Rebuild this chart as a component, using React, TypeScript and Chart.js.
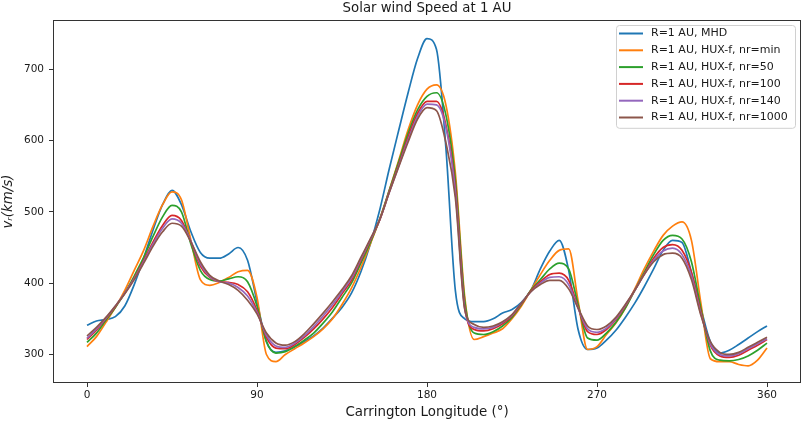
import React, { useEffect, useRef } from 'react';
import { Chart, registerables } from 'chart.js';

Chart.register(...registerables);

const longitude = [
  0, 5, 10, 15, 20, 25, 30, 35, 40, 45, 50, 55, 60, 65, 70, 75, 80, 85, 90,
  95, 100, 105, 110, 115, 120, 125, 130, 135, 140, 145, 150, 155, 160, 165, 170, 175, 180,
  185, 190, 195, 200, 205, 210, 215, 220, 225, 230, 235, 240, 245, 250, 255, 260, 265, 270,
  275, 280, 285, 290, 295, 300, 305, 310, 315, 320, 325, 330, 335, 340, 345, 350, 355, 360,
];

const mhd = [
  341, 347, 349, 353, 368, 398, 435, 475, 510, 530, 510, 472, 443, 435, 435, 441, 450, 432, 374,
  318, 303, 305, 311, 318, 326, 337, 351, 366, 386, 416, 455, 503, 560, 614, 667, 715, 743,
  728, 590, 390, 350, 346, 346, 350, 358, 363, 373, 390, 420, 445, 460, 418, 335, 307, 309,
  320, 334, 352, 372, 395, 420, 446, 460, 457, 415, 365, 318, 302, 306, 314, 323, 332, 340,
];

const huxMin = [
  311, 325, 345, 366, 390, 418, 446, 480, 510, 528, 517, 460, 405, 397, 401, 408, 416, 418, 380,
  300, 290, 300, 308, 316, 325, 336, 350, 370, 393, 422, 455, 490, 530, 572, 615, 650, 672,
  678, 650, 555, 380, 321, 325, 330, 336, 350, 368, 390, 412, 432, 446, 448, 375, 307, 311,
  328, 344, 365, 392, 420, 445, 467, 480, 486, 460, 372, 294, 290, 290, 286, 284, 292, 309,
];

const hux50 = [
  317, 330, 348, 366, 386, 410, 436, 466, 493, 509, 500, 455, 418, 405, 403, 406, 409, 402, 368,
  318, 302, 304, 311, 320, 330, 344, 360, 380, 400, 428, 457, 490, 530, 570, 610, 643, 662,
  667, 636, 545, 375, 330, 328, 332, 340, 352, 370, 390, 405, 420, 428, 420, 370, 323, 320,
  330, 345, 365, 390, 415, 440, 460, 467, 462, 430, 365, 305, 292, 291, 293, 298, 306, 316,
];

const hux100 = [
  321, 334, 350, 367, 386, 407, 432, 458, 481, 495, 488, 458, 424, 408, 402, 401, 398, 388, 362,
  324, 309, 308, 314, 324, 336, 350, 366, 385, 404, 432, 460, 489, 528, 566, 605, 638, 655,
  655, 622, 535, 366, 335, 333, 336, 343, 354, 371, 389, 402, 412, 414, 404, 366, 332, 328,
  335, 349, 368, 390, 413, 435, 450, 454, 446, 415, 360, 313, 298, 296, 299, 306, 313, 321,
];

const hux140 = [
  323, 336, 351, 368, 386, 406, 430, 455, 477, 490, 484, 459, 427, 409, 402, 400, 394, 382, 359,
  327, 312, 310, 316, 326, 339, 354, 370, 388, 407, 434, 461, 489, 527, 564, 601, 634, 651,
  650, 618, 528, 364, 338, 336, 338, 345, 355, 372, 388, 400, 408, 409, 398, 365, 336, 331,
  337, 350, 369, 390, 412, 432, 445, 449, 440, 410, 357, 315, 300, 298, 301, 308, 315, 322,
];

const hux1000 = [
  326, 338, 352, 368, 385, 405, 428, 452, 472, 484, 480, 458, 430, 411, 403, 398, 390, 376, 357,
  330, 316, 313, 318, 329, 343, 358, 374, 391, 410, 436, 462, 489, 527, 563, 598, 630, 646,
  642, 597, 520, 363, 342, 338, 340, 346, 356, 372, 388, 398, 404, 404, 392, 365, 340, 335,
  340, 352, 370, 390, 412, 430, 440, 442, 435, 405, 355, 318, 303, 300, 303, 310, 317, 324,
];

const seriesValues = [mhd, huxMin, hux50, hux100, hux140, hux1000];
const seriesLabels = [
  'R=1 AU, MHD',
  'R=1 AU, HUX-f, nr=min',
  'R=1 AU, HUX-f, nr=50',
  'R=1 AU, HUX-f, nr=100',
  'R=1 AU, HUX-f, nr=140',
  'R=1 AU, HUX-f, nr=1000',
];
const seriesColors = ['#1f77b4', '#ff7f0e', '#2ca02c', '#d62728', '#9467bd', '#8c564b'];

const xTicks = [0, 90, 180, 270, 360];
const yTicks = [300, 400, 500, 600, 700];

const FONT = "'DejaVu Sans', sans-serif";
const INK = '#1a1a1a';

// title centred over the axes, like matplotlib
const titlePlugin = {
  id: 'axesTitle',
  afterDraw(chart: any) {
    const { ctx, chartArea } = chart;
    ctx.save();
    ctx.font = `13.3px ${FONT}`;
    ctx.fillStyle = INK;
    ctx.textAlign = 'center';
    ctx.textBaseline = 'middle';
    ctx.fillText('Solar wind Speed at 1 AU', (chartArea.left + chartArea.right) / 2, chartArea.top - 11);
    ctx.restore();
  },
};

// four spines
const framePlugin = {
  id: 'frame',
  afterDatasetsDraw(chart: any) {
    const { ctx, chartArea } = chart;
    ctx.save();
    ctx.strokeStyle = '#333';
    ctx.lineWidth = 1;
    ctx.strokeRect(chartArea.left + 0.5, chartArea.top + 0.5, chartArea.right - chartArea.left - 1, chartArea.bottom - chartArea.top - 1);
    ctx.restore();
  },
};

// boxed legend in the upper right corner
const legendPlugin = {
  id: 'boxLegend',
  afterDraw(chart: any) {
    const { ctx, chartArea } = chart;
    const sets = chart.data.datasets;
    const rowH = 16.8;
    const w = 179;
    const h = sets.length * rowH + 2;
    const x0 = chartArea.right - 6 - w;
    const y0 = chartArea.top + 5;
    ctx.save();
    ctx.beginPath();
    ctx.roundRect(x0 + 0.5, y0 + 0.5, w, h, 3);
    ctx.fillStyle = 'rgba(255,255,255,0.8)';
    ctx.fill();
    ctx.strokeStyle = '#d0d0d0';
    ctx.lineWidth = 1;
    ctx.stroke();
    ctx.font = `11px ${FONT}`;
    ctx.textBaseline = 'middle';
    ctx.textAlign = 'left';
    sets.forEach((ds: any, i: number) => {
      const cy = y0 + 8.5 + i * rowH;
      ctx.beginPath();
      ctx.moveTo(x0 + 3, cy);
      ctx.lineTo(x0 + 27, cy);
      ctx.strokeStyle = ds.borderColor;
      ctx.lineWidth = 2;
      ctx.stroke();
      ctx.fillStyle = INK;
      ctx.fillText(ds.label, x0 + 35, cy);
    });
    ctx.restore();
  },
};

const App: React.FC = () => {
  const canvasRef = useRef<HTMLCanvasElement>(null);
  const chartRef = useRef<Chart | null>(null);

  useEffect(() => {
    if (!canvasRef.current) return;
    if (chartRef.current) chartRef.current.destroy();
    const ctx = canvasRef.current.getContext('2d');
    if (!ctx) return;

    chartRef.current = new Chart(ctx, {
      type: 'line',
      data: {
        datasets: seriesValues.map((vals, i) => ({
          label: seriesLabels[i],
          data: longitude.map((x, j) => ({ x, y: vals[j] })),
          borderColor: seriesColors[i],
          backgroundColor: seriesColors[i],
          borderWidth: 1.7,
          pointRadius: 0,
          fill: false,
          cubicInterpolationMode: 'monotone' as const,
          order: seriesValues.length - i,
        })),
      },
      options: {
        responsive: false,
        animation: false,
        layout: { padding: { top: 20, right: 2, left: 0, bottom: 0 } },
        plugins: {
          legend: { display: false },
          tooltip: { enabled: false },
          title: { display: false },
        },
        scales: {
          x: {
            type: 'linear',
            min: -18,
            max: 378,
            afterBuildTicks: (scale: any) => {
              scale.ticks = xTicks.map((value) => ({ value }));
            },
            afterFit: (scale: any) => {
              scale.height = 42;
            },
            grid: { drawOnChartArea: false, drawTicks: true, tickLength: 4, color: '#333' },
            border: { display: false },
            ticks: { font: { family: FONT, size: 10.5 }, color: INK, padding: 2, maxRotation: 0 },
            title: {
              display: true,
              text: 'Carrington Longitude (°)',
              font: { family: FONT, size: 13.4 },
              color: INK,
              padding: { top: 0, bottom: 4 },
            },
          },
          y: {
            type: 'linear',
            min: 260,
            max: 769,
            afterBuildTicks: (scale: any) => {
              scale.ticks = yTicks.map((value) => ({ value }));
            },
            afterFit: (scale: any) => {
              scale.width = 53;
            },
            grid: { drawOnChartArea: false, drawTicks: true, tickLength: 4, color: '#333' },
            border: { display: false },
            ticks: { font: { family: FONT, size: 10.5 }, color: INK, padding: 5 },
            title: {
              display: true,
              text: 'vᵣ(km/s)',
              font: { family: FONT, size: 13.4, style: 'italic' },
              color: INK,
              padding: { top: 0, bottom: 0 },
            },
          },
        },
      },
      plugins: [framePlugin, titlePlugin, legendPlugin],
    });

    return () => {
      if (chartRef.current) {
        chartRef.current.destroy();
        chartRef.current = null;
      }
    };
  }, []);

  return (
    <div style={{ position: 'absolute', left: 0, top: 0, width: 803, height: 425, background: '#fff' }}>
      <canvas ref={canvasRef} width={803} height={425}></canvas>
    </div>
  );
};

export default App;
